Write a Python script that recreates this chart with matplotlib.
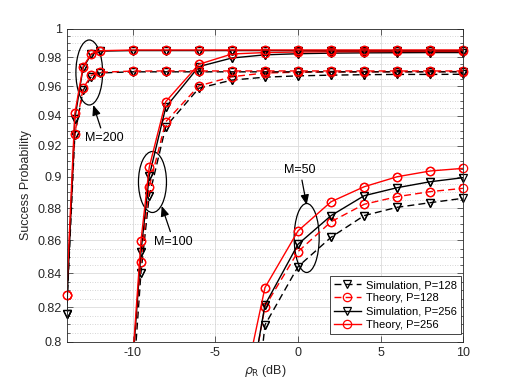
import matplotlib
matplotlib.use('Agg')
import matplotlib.pyplot as plt
from matplotlib.patches import Ellipse
from matplotlib.ticker import FixedLocator, NullFormatter

plt.rcParams['font.family'] = ['Liberation Sans', 'DejaVu Sans']
plt.rcParams['axes.unicode_minus'] = False

# M = 200
snr_200 = [-14, -13.5, -13, -12.5, -12, -10, -8, -6, -4, -2, 0, 2, 4, 6, 8, 10]
m200_sim128 = [0.816, 0.927, 0.957, 0.9665, 0.969, 0.9698, 0.9698, 0.9698, 0.9698, 0.9698,
               0.9698, 0.9698, 0.9698, 0.9698, 0.9698, 0.9698]
m200_th128 = [0.827, 0.928, 0.9585, 0.9673, 0.9695, 0.9703, 0.9704, 0.9704, 0.9704, 0.9704,
              0.9704, 0.9704, 0.9704, 0.9704, 0.9704, 0.9704]
m200_sim256 = [0.816, 0.938, 0.9726, 0.982, 0.9842, 0.9846, 0.9846, 0.9846, 0.9846, 0.9846,
               0.9846, 0.9846, 0.9846, 0.9846, 0.9846, 0.9846]
m200_th256 = [0.827, 0.9415, 0.9734, 0.9824, 0.9845, 0.985, 0.985, 0.985, 0.985, 0.985,
              0.985, 0.985, 0.985, 0.985, 0.985, 0.985]

# M = 100
snr_100 = [-10, -9.5, -9, -8, -6, -4, -2, 0, 2, 4, 6, 8, 10]
m100_sim128 = [0.773, 0.8404, 0.8876, 0.9326, 0.9585, 0.9641, 0.9661, 0.967, 0.9675, 0.9678,
               0.968, 0.968, 0.9681]
m100_th128 = [0.788, 0.847, 0.8935, 0.9359, 0.9601, 0.9664, 0.969, 0.9695, 0.9697, 0.9698,
              0.9699, 0.9699, 0.97]
m100_sim256 = [0.787, 0.853, 0.9004, 0.9456, 0.9734, 0.9794, 0.9816, 0.9824, 0.9828, 0.983,
               0.9831, 0.9832, 0.9832]
m100_th256 = [0.79, 0.8596, 0.906, 0.9494, 0.975, 0.9822, 0.9832, 0.9836, 0.9838, 0.9839,
              0.984, 0.984, 0.984]

# M = 50
snr_50 = [-4, -2, 0, 2, 4, 6, 8, 10]
m50_sim128 = [0.65, 0.8096, 0.844, 0.8619, 0.8753, 0.8805, 0.8834, 0.8862]
m50_th128 = [0.719, 0.8203, 0.8531, 0.8715, 0.8824, 0.8872, 0.8904, 0.8925]
m50_sim256 = [0.717, 0.8213, 0.8576, 0.8753, 0.8878, 0.8929, 0.8967, 0.8993]
m50_th256 = [0.744, 0.8315, 0.8658, 0.884, 0.8935, 0.8999, 0.9036, 0.9053]

yticks = [0.8, 0.82, 0.84, 0.86, 0.88, 0.9, 0.92, 0.94, 0.96, 0.98, 1.0]
ytick_labels = ['0.8', '0.82', '0.84', '0.86', '0.88', '0.9', '0.92', '0.94', '0.96', '0.98', '1']
xticks = [-10, -5, 0, 5, 10]
legend_labels = ['Simulation, P=128', 'Theory, P=128', 'Simulation, P=256', 'Theory, P=256']

fig = plt.figure(figsize=(5.12, 3.84), dpi=100)
ax = fig.add_axes([0.13, 0.11, 0.775, 0.815])

mk = dict(ms=6, mfc='none', mew=0.9, lw=1.0)
dash = (5, 3)
styles = [('k', '--', 'v'), ('r', '--', 'o'), ('k', '-', 'v'), ('r', '-', 'o')]
handles = []
for x, *series in [(snr_50, m50_sim128, m50_th128, m50_sim256, m50_th256),
                   (snr_100, m100_sim128, m100_th128, m100_sim256, m100_th256),
                   (snr_200, m200_sim128, m200_th128, m200_sim256, m200_th256)]:
    handles = []
    for y, (c, ls, m) in zip(series, styles):
        kw = dict(dashes=dash) if ls == '--' else {}
        h, = ax.plot(x, y, color=c, ls=ls, marker=m, **mk, **kw)
        handles.append(h)
        # markers inside the y range are drawn whole, like MATLAB does at the edges
        xs = [a for a, b in zip(x, y) if b >= 0.8]
        ys = [b for b in y if b >= 0.8]
        ax.plot(xs, ys, ls='none', color=c, marker=m, ms=6, mfc='none', mew=0.9, clip_on=False)

ax.set_yscale('log')
ax.set_xlim(-14, 10)
ax.set_ylim(0.8, 1.0)
ax.set_xticks(xticks)
ax.set_xticklabels([str(t) for t in xticks])
ax.yaxis.set_major_locator(FixedLocator(yticks))
ax.set_yticklabels(ytick_labels)
ax.yaxis.set_minor_locator(FixedLocator([0.8 + 0.005 * i for i in range(41)]))
ax.yaxis.set_minor_formatter(NullFormatter())
ax.xaxis.set_minor_locator(FixedLocator([]))

ax.grid(True, which='major', color='#dcdcdc', lw=0.6, ls='-')
ax.grid(True, which='minor', axis='y', color='#c8c8c8', lw=0.6, ls=(0, (1, 2)))
ax.set_axisbelow(True)

ax.tick_params(which='both', direction='in', top=True, right=True, colors='#262626',
               labelsize=9, width=0.5)
ax.tick_params(which='major', length=4)
ax.tick_params(which='minor', length=2)
for sp in ax.spines.values():
    sp.set_color('#262626')
    sp.set_linewidth(0.6)

ax.set_xlabel(r'$\rho_{\mathrm{R}}$ (dB)', fontsize=9, color='#262626', labelpad=3)
ax.set_ylabel('Success Probability', fontsize=9, color='#262626', labelpad=4)

# ellipses and arrows marking the three groups of curves
ell_props = dict(fill=False, ec='k', lw=0.9, transform=ax.transAxes)
ax.add_patch(Ellipse((0.0572, 0.8604), 0.0673, 0.2077, **ell_props))
ax.add_patch(Ellipse((0.2165, 0.5105), 0.0706, 0.1949, **ell_props))
ax.add_patch(Ellipse((0.6051, 0.3316), 0.063, 0.2204, **ell_props))

arr = dict(arrowstyle='-|>,head_length=0.6,head_width=0.25', color='k', lw=0.9,
           shrinkA=1, shrinkB=0, mutation_scale=10)
ax.annotate('M=200', xy=(0.0673, 0.7565), xytext=(0.0943, 0.6511), xycoords='axes fraction',
            ha='center', va='center', fontsize=9, arrowprops=arr)
ax.annotate('M=100', xy=(0.2397, 0.4339), xytext=(0.2702, 0.3198), xycoords='axes fraction',
            ha='center', va='center', fontsize=9, arrowprops=arr)
ax.annotate('M=50', xy=(0.6051, 0.4371), xytext=(0.5884, 0.5489), xycoords='axes fraction',
            ha='center', va='center', fontsize=9, arrowprops=arr)

leg = ax.legend(handles, legend_labels, loc='lower right', bbox_to_anchor=(0.994, 0.025),
                borderaxespad=0, fontsize=8, fancybox=False, framealpha=1,
                edgecolor='#262626', handlelength=2.4, labelspacing=0.3,
                handletextpad=0.5, borderpad=0.35)
leg.get_frame().set_linewidth(0.6)

fig.savefig('out.png', dpi=100)
